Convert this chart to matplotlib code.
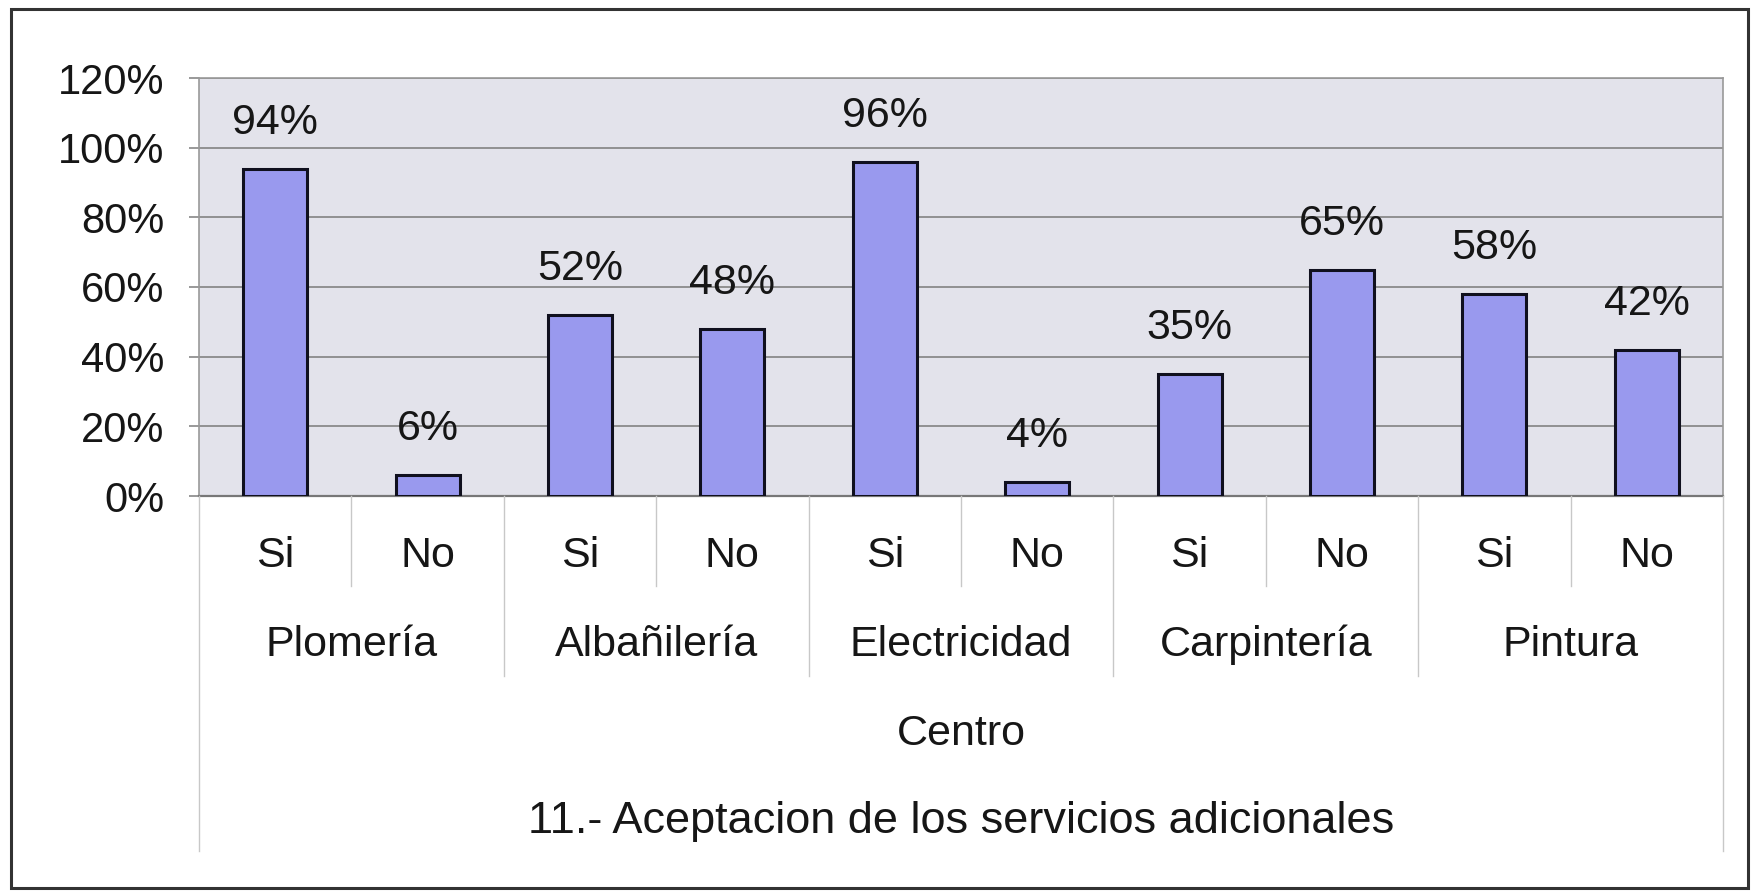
import matplotlib.pyplot as plt
from matplotlib.lines import Line2D
from matplotlib.patches import Rectangle
from matplotlib.ticker import FuncFormatter

plt.rcParams['font.family'] = ['Liberation Sans', 'DejaVu Sans']

# data
servicios = ['Plomería', 'Albañilería', 'Electricidad', 'Carpintería', 'Pintura']
respuestas = ['Si', 'No']
porcentajes = [94, 6, 52, 48, 96, 4, 35, 65, 58, 42]
yticks = [0, 20, 40, 60, 80, 100, 120]

W, H = 1751, 891
fig = plt.figure(figsize=(W / 100, H / 100), dpi=100)

# plot area in pixels
left, right, top, bottom = 199, 1723, 78, 496
ax = fig.add_axes([left / W, 1 - bottom / H, (right - left) / W, (bottom - top) / H])
ax.set_facecolor('#e3e3eb')

txt = '#161616'
x = list(range(len(porcentajes)))
bars = ax.bar(x, porcentajes, width=0.42, color='#9999ee', edgecolor='#10101e',
              linewidth=2.2, zorder=3)
for xi, v in zip(x, porcentajes):
    ax.annotate(f'{v}%', (xi, v), xytext=(0, 33), textcoords='offset points',
                ha='center', va='center', fontsize=31, color=txt)

ax.set_xlim(-0.5, len(porcentajes) - 0.5)
ax.set_ylim(0, 120)
ax.set_yticks(yticks)
ax.yaxis.set_major_formatter(FuncFormatter(lambda v, p: f'{v:.0f}%'))
ax.tick_params(axis='y', labelsize=30, length=7, width=1.2, color='#888888',
               pad=18, labelcolor=txt)
ax.set_xticks([])
ax.grid(axis='y', color='#8a8a8a', linewidth=1.3, zorder=1)
for s in ['top', 'right', 'left']:
    ax.spines[s].set_color('#999999')
    ax.spines[s].set_linewidth(1.2)
ax.spines['bottom'].set_color('#777777')
ax.spines['bottom'].set_linewidth(1.6)


def fy(px):
    return 1 - px / H


def fx(xd):
    return (left + (xd + 0.5) / len(porcentajes) * (right - left)) / W


# category levels under the axis
for i, xi in enumerate(x):
    fig.text(fx(xi), fy(556), respuestas[i % 2], ha='center', va='center',
             fontsize=31, color=txt)
    if i % 2 == 0:
        fig.text(fx(xi + 0.5), fy(645), servicios[i // 2], ha='center', va='center',
                 fontsize=31, color=txt)

for xi in [0.5, 2.5, 4.5, 6.5, 8.5]:
    fig.add_artist(Line2D([fx(xi), fx(xi)], [fy(bottom), fy(586)], color='#c8c8c8', lw=1))
for xi in [1.5, 3.5, 5.5, 7.5]:
    fig.add_artist(Line2D([fx(xi), fx(xi)], [fy(bottom), fy(676)], color='#c8c8c8', lw=1))
for xi in [-0.5, 9.5]:
    fig.add_artist(Line2D([fx(xi), fx(xi)], [fy(bottom), fy(851)], color='#c8c8c8', lw=1))

fig.text(fx(4.5), fy(734), 'Centro', ha='center', va='center', fontsize=31, color=txt)
fig.text(fx(4.5), fy(821), '11.- Aceptacion de los servicios adicionales',
         ha='center', va='center', fontsize=32.5, color=txt)

# outer frame
fig.add_artist(Rectangle((11 / W, 1 - 888 / H), (1748 - 11) / W, (888 - 9) / H,
                         transform=fig.transFigure, fill=False, edgecolor='#333333', lw=2.2))

fig.savefig('out.png', dpi=100)
